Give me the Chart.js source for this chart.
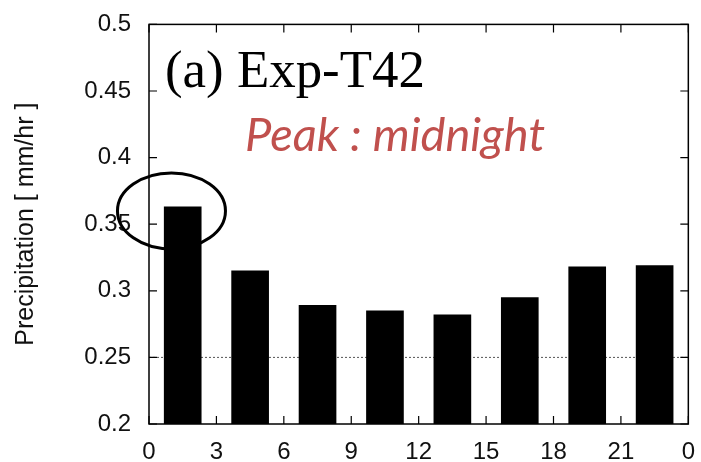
<!DOCTYPE html>
<html>
<head>
<meta charset="utf-8">
<script src="https://cdn.jsdelivr.net/npm/chart.js@4.4.1/dist/chart.umd.min.js"></script>
<style>
  html, body { margin: 0; padding: 0; background: #fff; }
  #wrap { width: 701px; height: 462px; }
</style>
</head>
<body>
<div id="wrap"><canvas id="chartPrecip" width="701" height="462"></canvas></div>
<script>
// Diurnal precipitation, Exp-T42 (3-hourly means, bars centred in each bin)
var binCentres = [1.5, 4.5, 7.5, 10.5, 13.5, 16.5, 19.5, 22.5];
var precip = [0.363, 0.315, 0.289, 0.285, 0.282, 0.295, 0.318, 0.319];
var xTicks = [0, 3, 6, 9, 12, 15, 18, 21, 24];
var yTicks = [0.2, 0.25, 0.3, 0.35, 0.4, 0.45, 0.5];
var refLevel = 0.25;

var tickFont = { family: 'Liberation Sans, Arial, sans-serif', size: 24 };

// fit a string into a given width
function fitFont(ctx, text, style, family, width) {
  ctx.font = style + ' 40px ' + family;
  var size = 40 * width / ctx.measureText(text).width;
  ctx.font = style + ' ' + size.toFixed(1) + 'px ' + family;
}

// frame, inward ticks, titles and the circled peak
var decorations = {
  id: 'decorations',
  afterDatasetsDraw: function (chart) {
    var ctx = chart.ctx;
    var a = chart.chartArea;
    var sx = chart.scales.x, sy = chart.scales.y;
    ctx.save();
    ctx.strokeStyle = '#000';
    ctx.lineWidth = 1.5;
    ctx.strokeRect(a.left, a.top, a.right - a.left, a.bottom - a.top);

    ctx.lineWidth = 1.2;
    ctx.beginPath();
    xTicks.forEach(function (v) {
      var px = sx.getPixelForValue(v);
      ctx.moveTo(px, a.bottom); ctx.lineTo(px, a.bottom - 8);
      ctx.moveTo(px, a.top); ctx.lineTo(px, a.top + 8);
    });
    yTicks.forEach(function (v) {
      var py = sy.getPixelForValue(v);
      ctx.moveTo(a.left, py); ctx.lineTo(a.left + 8, py);
      ctx.moveTo(a.right, py); ctx.lineTo(a.right - 8, py);
    });
    ctx.stroke();

    // panel label
    ctx.fillStyle = '#000';
    ctx.textBaseline = 'alphabetic';
    ctx.textAlign = 'left';
    fitFont(ctx, '(a) Exp-T42', '', '"Liberation Serif", "Times New Roman", serif', 260);
    ctx.fillText('(a) Exp-T42', 165, 87);

    // annotation
    ctx.fillStyle = '#c0504d';
    fitFont(ctx, 'Peak : midnight', 'italic', 'Lato, "Open Sans", sans-serif', 300);
    ctx.fillText('Peak : midnight', 245, 151);

    // circle round the first bar
    ctx.strokeStyle = '#000';
    ctx.lineWidth = 3;
    ctx.beginPath();
    ctx.ellipse(sx.getPixelForValue(1.0), sy.getPixelForValue(0.36), 54, 38, 0, 0, Math.PI * 2);
    ctx.stroke();
    ctx.restore();
  }
};

new Chart(document.getElementById('chartPrecip'), {
  type: 'bar',
  data: {
    datasets: [
      {
        type: 'bar',
        label: 'Precipitation',
        data: binCentres.map(function (h, i) { return { x: h, y: precip[i] }; }),
        backgroundColor: '#000',
        borderWidth: 0,
        barThickness: 37,
        order: 1
      },
      {
        type: 'line',
        label: 'ref',
        data: [{ x: 0, y: refLevel }, { x: 24, y: refLevel }],
        borderColor: '#555',
        borderWidth: 1,
        borderDash: [2, 2],
        pointRadius: 0,
        order: 2
      }
    ]
  },
  options: {
    responsive: false,
    animation: false,
    layout: { padding: { left: 0, top: 22, right: 10, bottom: 0 } },
    plugins: { legend: { display: false }, tooltip: { enabled: false } },
    scales: {
      x: {
        type: 'linear',
        offset: false,
        min: 0,
        max: 24,
        afterBuildTicks: function (s) { s.ticks = xTicks.map(function (v) { return { value: v }; }); },
        afterFit: function (s) { s.height = 38; },
        grid: { display: false, offset: false },
        border: { display: false },
        ticks: {
          color: '#111',
          font: tickFont,
          padding: 6,
          maxRotation: 0,
          autoSkip: false,
          callback: function (v) { return String(v % 24); }
        }
      },
      y: {
        min: 0.2,
        max: 0.5,
        afterBuildTicks: function (s) { s.ticks = yTicks.map(function (v) { return { value: v }; }); },
        afterFit: function (s) { s.width = 149; },
        grid: { display: false },
        border: { display: false },
        title: {
          display: true,
          text: 'Precipitation [ mm/hr ]',
          color: '#111',
          font: { family: 'Liberation Sans, Arial, sans-serif', size: 25 },
          padding: { top: 11, bottom: 0 }
        },
        ticks: {
          color: '#111',
          font: tickFont,
          padding: 10,
          callback: function (v) { return String(parseFloat(v.toFixed(2))); }
        }
      }
    }
  },
  plugins: [decorations]
});
</script>
</body>
</html>
